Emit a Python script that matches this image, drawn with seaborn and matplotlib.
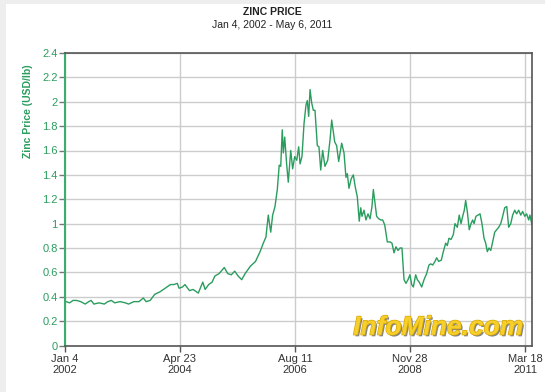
import matplotlib
matplotlib.use("Agg")
import matplotlib.pyplot as plt
import matplotlib.dates as mdates
import matplotlib.patheffects as pe
from matplotlib.patches import Rectangle
import pandas as pd
import seaborn as sns

# zinc price, USD/lb (days counted from Jan 4, 2002)
start = "2002-01-04"
days = [0, 10, 36, 61, 86, 117, 150, 175, 193, 213, 251, 289, 315, 340, 365,
        404, 442, 467, 505, 543, 574, 594, 624, 657, 695, 733, 772, 797, 822,
        835, 860, 878, 911, 937, 975, 1008, 1025, 1051, 1076, 1096, 1127,
        1165, 1190, 1216, 1241, 1266, 1292, 1317, 1355, 1393,
        1426, 1450, 1469, 1486, 1504, 1518, 1535, 1552, 1566, 1577, 1588,
        1596, 1606, 1620, 1632, 1650, 1664, 1679, 1694, 1708, 1718, 1732,
        1747, 1761, 1771, 1781, 1791, 1803, 1815, 1827, 1844, 1856, 1869,
        1883, 1900, 1920, 1937, 1949,
        1971, 1985, 2000, 2022, 2039, 2053, 2063, 2075, 2092, 2107, 2121,
        2136, 2150, 2161, 2170, 2185, 2199, 2214, 2229, 2243, 2253, 2267,
        2277, 2292, 2307, 2321, 2336, 2355, 2375, 2389, 2404, 2418, 2433,
        2448, 2462, 2477, 2491, 2506, 2520, 2533, 2545, 2562, 2574, 2588,
        2606, 2623, 2642, 2659, 2672, 2686, 2703, 2715, 2730, 2749, 2764,
        2781, 2793, 2805, 2820, 2837, 2849, 2866, 2880, 2893, 2905, 2917,
        2927, 2939, 2953, 2966, 2978, 2988, 3002, 3017, 3032, 3046, 3061,
        3073, 3085, 3097, 3110, 3124, 3139, 3153, 3168, 3183, 3197, 3212,
        3227, 3241, 3256, 3270, 3285, 3299, 3314, 3329, 3343, 3358, 3372,
        3387, 3396, 3411]
price = [0.37, 0.36, 0.35, 0.37, 0.37, 0.36, 0.34, 0.36, 0.37, 0.34, 0.35,
         0.34, 0.36, 0.37, 0.35, 0.36, 0.35, 0.34, 0.36, 0.36, 0.39, 0.36,
         0.37, 0.42, 0.44, 0.47, 0.50, 0.50, 0.51, 0.47, 0.48, 0.50, 0.45,
         0.46, 0.43, 0.52, 0.46, 0.50, 0.52, 0.57, 0.59, 0.64, 0.59, 0.58,
         0.61, 0.57, 0.54, 0.59, 0.65, 0.69,
         0.77, 0.84, 0.89, 1.07, 0.93, 1.07, 1.14, 1.28, 1.48, 1.47, 1.77,
         1.58, 1.71, 1.49, 1.34, 1.60, 1.45, 1.55, 1.52, 1.63, 1.49, 1.55,
         1.82, 1.97, 2.01, 1.88, 2.10, 1.99, 1.93, 1.93, 1.64, 1.63, 1.44,
         1.60, 1.47, 1.52, 1.69, 1.85,
         1.67, 1.64, 1.51, 1.66, 1.58, 1.38, 1.41, 1.29, 1.37, 1.40, 1.30,
         1.22, 1.02, 1.13, 1.06, 1.11, 1.03, 1.08, 1.04, 1.14, 1.28, 1.15,
         1.06, 1.04, 1.03, 1.03, 0.99, 0.85, 0.85, 0.84, 0.76, 0.81, 0.78,
         0.80, 0.80, 0.54, 0.51, 0.54, 0.58, 0.50, 0.48, 0.58, 0.54, 0.52,
         0.48, 0.54, 0.59, 0.66, 0.67, 0.66, 0.69, 0.72, 0.69, 0.70, 0.77,
         0.84, 0.82, 0.88, 0.87, 0.91, 1.00, 0.97, 1.07, 1.00, 1.06, 1.11,
         1.19, 1.10, 0.95, 1.00, 1.03, 1.00, 1.06, 1.07, 1.08, 1.00, 0.88,
         0.84, 0.77, 0.80, 0.78, 0.85, 0.93, 0.95, 0.97, 1.00, 1.06, 1.13,
         1.14, 0.97, 1.00, 1.07, 1.11, 1.08, 1.11, 1.07, 1.10, 1.06, 1.08,
         1.03, 1.07, 0.99]
assert len(days) == len(price)

x_ticks = ["2002-01-04", "2004-04-23", "2006-08-11", "2008-11-28", "2011-03-18"]
y_ticks = [0, 0.2, 0.4, 0.6, 0.8, 1, 1.2, 1.4, 1.6, 1.8, 2, 2.2, 2.4]

df = pd.DataFrame({
    "date": pd.Timestamp(start) + pd.to_timedelta(days, unit="D"),
    "price": price,
})

green = "#2a9d5e"
sns.set_style("white")
plt.rcParams["font.family"] = ["Liberation Sans", "DejaVu Sans"]

fig = plt.figure(figsize=(5.45, 3.92), dpi=100, facecolor="#eeeeee")
fig.patches.append(Rectangle((6 / 545, 0), 1, 1 - 4 / 392, transform=fig.transFigure,
                             facecolor="white", edgecolor="none", zorder=-1))
ax = fig.add_axes([64.7 / 545, 46.5 / 392, 467 / 545, 292.5 / 392])

sns.lineplot(data=df, x="date", y="price", color=green, linewidth=1.0, ax=ax)

ax.set_xlim(pd.Timestamp("2002-01-04"), pd.Timestamp("2011-05-06"))
ax.set_ylim(0, 2.4)
ax.set_xticks(pd.to_datetime(x_ticks))
ax.xaxis.set_major_formatter(mdates.DateFormatter("%b %-d\n%Y"))
ax.set_yticks(y_ticks)
ax.set_yticklabels([f"{v:g}" for v in y_ticks])

ax.grid(True, color="#cccccc", linewidth=1.0)
ax.set_axisbelow(True)
ax.tick_params(axis="y", colors="#777777", labelcolor=green, labelsize=8,
               length=4, width=1, direction="out", left=True, pad=1)
ax.tick_params(axis="x", colors="#555555", labelcolor="#333333", labelsize=8,
               length=4, width=1, direction="out", bottom=True, pad=2)
for s in ["top", "right", "bottom"]:
    ax.spines[s].set_color("#555555")
    ax.spines[s].set_linewidth(1.2)
ax.spines["left"].set_color("#3aae6e")
ax.spines["left"].set_linewidth(1.5)

ax.set_xlabel("")
ax.set_ylabel("Zinc Price (USD/lb)", color=green, fontsize=7.5,
              fontweight="bold")
ax.yaxis.set_label_coords(-0.068, 0.80)

fig.text(0.5, 1 - 12 / 392, "ZINC PRICE", ha="center", va="center",
         fontsize=7.5, fontweight="bold", color="#222222")
fig.text(0.5, 1 - 25 / 392, "Jan 4, 2002 - May 6, 2011", ha="center",
         va="center", fontsize=7.5, color="#222222")

ax.text(0.982, 0.02, "InfoMine.com", transform=ax.transAxes, ha="right",
        va="bottom", fontsize=19, fontweight="bold", style="italic",
        color="#f7cf2c",
        path_effects=[pe.withSimplePatchShadow(offset=(1.2, -1.2),
                                               shadow_rgbFace="#777777",
                                               alpha=0.9),
                      pe.withStroke(linewidth=1, foreground="#d9a800")])

fig.savefig("out.png", dpi=100, facecolor=fig.get_facecolor())
